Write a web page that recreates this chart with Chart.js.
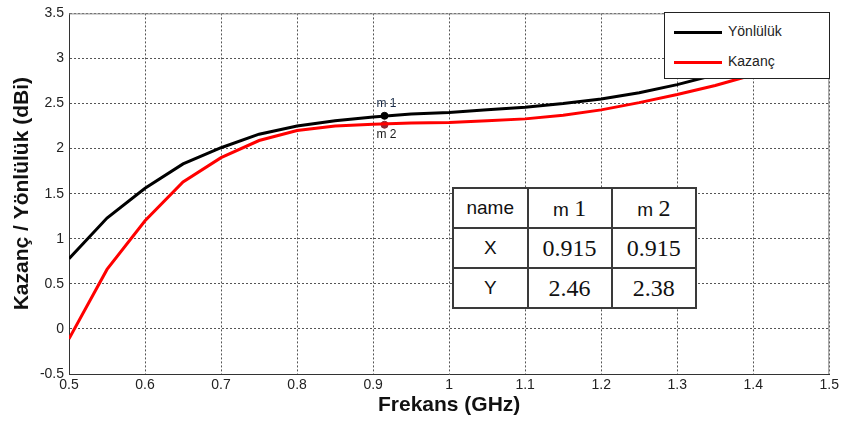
<!DOCTYPE html>
<html>
<head>
<meta charset="utf-8">
<script src="https://cdn.jsdelivr.net/npm/chart.js@4.4.0/dist/chart.umd.min.js"></script>
<style>
  body { margin: 0; background: #fff; }
  #wrap { position: relative; width: 842px; height: 425px; }
  #legend {
    position: absolute; left: 664px; top: 12px; width: 164px; height: 65px;
    border: 1px solid #222; background: #fff;
    font-family: "Liberation Sans", Arial, sans-serif; font-size: 14px; color: #222;
  }
  #legend .item { position: absolute; left: 9px; height: 20px; line-height: 20px; }
  #legend .swatch { display: inline-block; width: 48px; height: 3px; vertical-align: middle; margin-right: 6px; }
  #markers {
    position: absolute; left: 452px; top: 187px; width: 245px; height: 116px;
    border-collapse: collapse; background: #fff; border: 2px solid #3a3a3a;
  }
  #markers td {
    border: 2px solid #3a3a3a; text-align: center; padding: 0; height: 38px;
    font-family: "Liberation Sans", Arial, sans-serif; font-size: 19px; color: #111;
  }
  #markers .num { font-family: "Liberation Serif", "Times New Roman", serif; font-size: 24px; }
</style>
</head>
<body>
<div id="wrap">
  <canvas id="c" width="842" height="425"></canvas>
  <div id="legend"></div>
  <table id="markers"></table>
</div>
<script>
// frequency in GHz
const freq = [0.5, 0.55, 0.6, 0.65, 0.7, 0.75, 0.8, 0.85, 0.9, 0.95, 1.0,
              1.05, 1.1, 1.15, 1.2, 1.25, 1.3, 1.35, 1.4, 1.45, 1.5];
const yonluluk = [0.78, 1.23, 1.56, 1.83, 2.01, 2.16, 2.25, 2.31, 2.35, 2.385, 2.40,
                  2.43, 2.46, 2.50, 2.55, 2.62, 2.71, 2.82, 2.94, 3.07, 3.20];
const kazanc = [-0.11, 0.66, 1.20, 1.63, 1.90, 2.09, 2.20, 2.25, 2.27, 2.285, 2.29,
                2.31, 2.33, 2.37, 2.43, 2.51, 2.60, 2.70, 2.82, 2.95, 3.08];

// markers as drawn on the curves, and the values printed in the table
const markerNames = ["m 1", "m 2"];
const markerX = [0.915, 0.915];
const markerY = [2.364, 2.265];
const tableX = ["0.915", "0.915"];
const tableY = ["2.46", "2.38"];

const xTicks = { min: 0.5, max: 1.5, step: 0.1 };
const yTicks = { min: -0.5, max: 3.5, step: 0.5 };

function toPoints(xs, ys) {
  return xs.map((x, i) => ({ x: x, y: ys[i] }));
}

// matlab style labels: 1 not 1.0, 0.6 not 0.6000001
function plainLabel(value) {
  return String(parseFloat(Number(value).toFixed(3)));
}

const frameBorder = {
  id: "frameBorder",
  beforeDatasetsDraw(chart) {
    const { ctx, chartArea: a } = chart;
    ctx.save();
    ctx.strokeStyle = "#8a8a8a";
    ctx.lineWidth = 1;
    ctx.beginPath();
    ctx.moveTo(a.left, a.top + 0.5);
    ctx.lineTo(a.right - 0.5, a.top + 0.5);
    ctx.lineTo(a.right - 0.5, a.bottom);
    ctx.stroke();
    ctx.restore();
  }
};

const markerLabels = {
  id: "markerLabels",
  afterDatasetsDraw(chart) {
    const ctx = chart.ctx;
    ctx.save();
    ctx.font = "12px 'Liberation Sans', Arial, sans-serif";
    ctx.textAlign = "left";
    markerNames.forEach((name, i) => {
      const meta = chart.getDatasetMeta(2 + i);
      const p = meta.data[0];
      if (i === 0) {
        ctx.fillStyle = "#1c2e4a";
        ctx.textBaseline = "bottom";
        ctx.fillText(name, p.x - 8, p.y - 6);
      } else {
        ctx.fillStyle = "#1a1a1a";
        ctx.textBaseline = "top";
        ctx.fillText(name, p.x - 8, p.y + 4);
      }
    });
    ctx.restore();
  }
};

const tickFont = { family: "'Liberation Sans', Arial, sans-serif", size: 14 };
const titleFont = { family: "'Liberation Sans', Arial, sans-serif", size: 21, weight: "bold" };

const chart = new Chart(document.getElementById("c"), {
  type: "line",
  data: {
    datasets: [
      {
        label: "Yönlülük",
        data: toPoints(freq, yonluluk),
        borderColor: "#000000",
        backgroundColor: "#000000",
        borderWidth: 3,
        pointRadius: 0,
        tension: 0
      },
      {
        label: "Kazanç",
        data: toPoints(freq, kazanc),
        borderColor: "#ff0000",
        backgroundColor: "#ff0000",
        borderWidth: 3,
        pointRadius: 0,
        tension: 0
      },
      {
        label: markerNames[0],
        data: [{ x: markerX[0], y: markerY[0] }],
        showLine: false,
        pointRadius: 3.5,
        pointBackgroundColor: "#000000",
        pointBorderColor: "#000000"
      },
      {
        label: markerNames[1],
        data: [{ x: markerX[1], y: markerY[1] }],
        showLine: false,
        pointRadius: 3.5,
        pointBackgroundColor: "#8b2a35",
        pointBorderColor: "#8b2a35"
      }
    ]
  },
  options: {
    responsive: false,
    animation: false,
    events: [],
    layout: { padding: { top: 10, right: 12, left: 0, bottom: 0 } },
    plugins: { legend: { display: false }, tooltip: { enabled: false } },
    scales: {
      x: {
        type: "linear",
        min: xTicks.min,
        max: xTicks.max,
        afterFit(s) { s.height = 51; },
        ticks: {
          stepSize: xTicks.step,
          font: tickFont,
          color: "#222",
          padding: 3,
          maxRotation: 0,
          autoSkip: false,
          callback: plainLabel
        },
        grid: { color: "#555", lineWidth: 1, drawTicks: false },
        border: { color: "#333", width: 1, dash: [2, 2] },
        title: { display: true, text: "Frekans (GHz)", font: titleFont, color: "#111", padding: { top: 0, bottom: 7 } }
      },
      y: {
        min: yTicks.min,
        max: yTicks.max,
        afterFit(s) { s.width = 69; },
        ticks: {
          stepSize: yTicks.step,
          font: tickFont,
          color: "#222",
          padding: 5,
          callback: plainLabel
        },
        grid: { color: "#555", lineWidth: 1, drawTicks: false },
        border: { color: "#333", width: 1, dash: [2, 2] },
        title: { display: true, text: "Kazanç / Yönlülük (dBi)", font: titleFont, color: "#111", padding: { top: 10, bottom: 0 } }
      }
    }
  },
  plugins: [frameBorder, markerLabels]
});

// legend box built from the two curves
const legend = document.getElementById("legend");
chart.data.datasets.slice(0, 2).forEach((ds, i) => {
  const item = document.createElement("div");
  item.className = "item";
  item.style.top = (8 + i * 30) + "px";
  item.innerHTML = '<span class="swatch" style="background:' + ds.borderColor + '"></span>' + ds.label;
  legend.appendChild(item);
});

// marker table
function nameCell(name) {
  const parts = name.split(" ");
  return parts[0] + ' <span class="num">' + parts[1] + '</span>';
}
const table = document.getElementById("markers");
const rows = [
  ["name"].concat(markerNames.map(nameCell)),
  ["X"].concat(tableX.map(v => '<span class="num">' + v + '</span>')),
  ["Y"].concat(tableY.map(v => '<span class="num">' + v + '</span>'))
];
rows.forEach(r => {
  const tr = document.createElement("tr");
  r.forEach(c => {
    const td = document.createElement("td");
    td.innerHTML = c;
    tr.appendChild(td);
  });
  table.appendChild(tr);
});
</script>
</body>
</html>
